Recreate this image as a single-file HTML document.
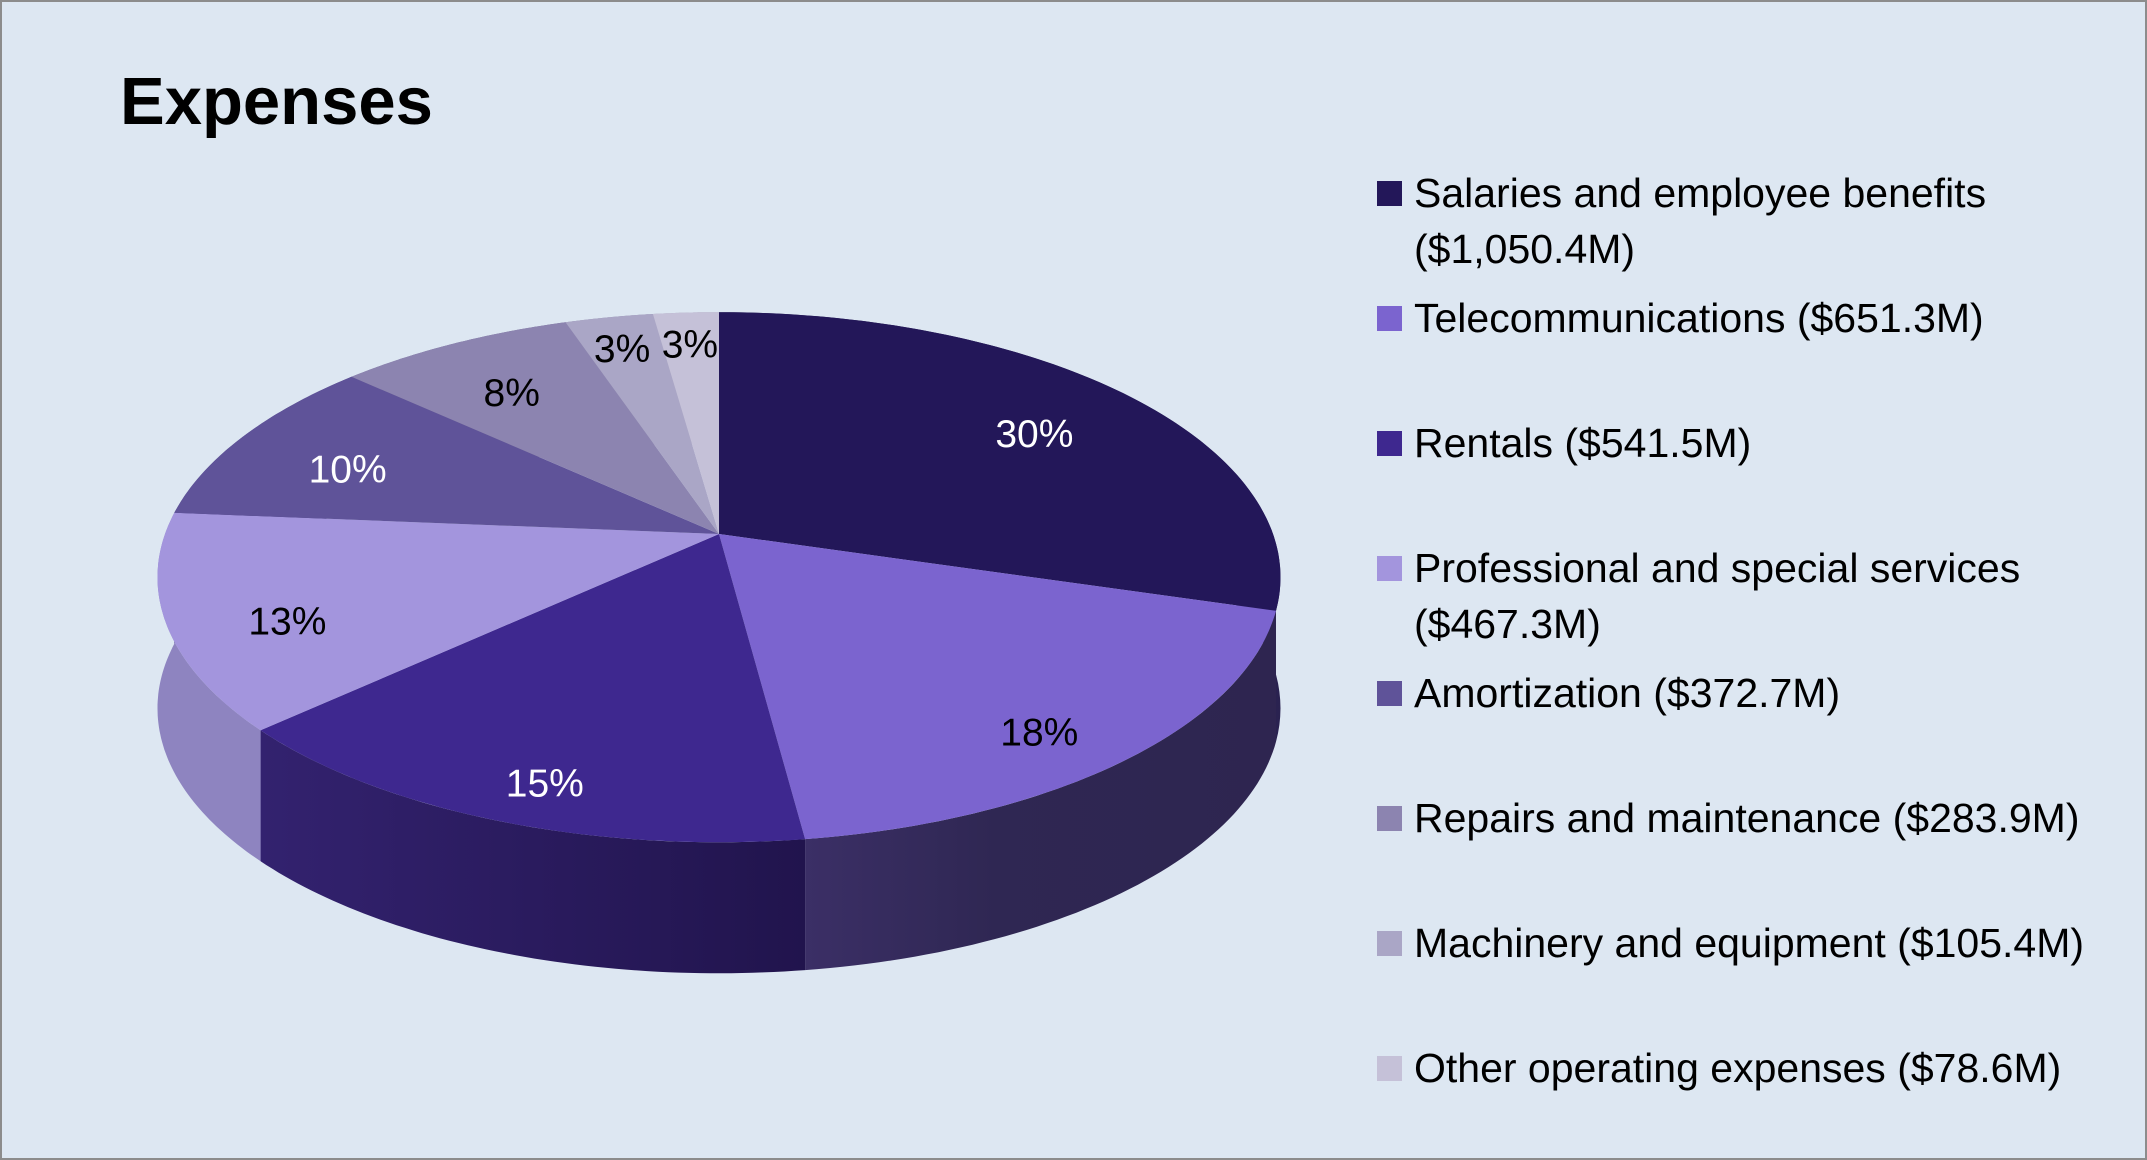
<!DOCTYPE html>
<html><head><meta charset="utf-8"><style>
html,body{margin:0;padding:0;background:#dde7f2;}
svg{display:block;font-family:"Liberation Sans",sans-serif;}
</style></head><body>
<svg id="chart" width="2147" height="1160" viewBox="0 0 2147 1160" xmlns="http://www.w3.org/2000/svg">
<defs>
<linearGradient id="g2" x1="0" x2="1" y1="0" y2="0"><stop offset="0" stop-color="#33226f"/><stop offset="1" stop-color="#21144d"/></linearGradient>
<linearGradient id="g1" x1="0" x2="1" y1="0" y2="0"><stop offset="0" stop-color="#3b2f66"/><stop offset="0.4" stop-color="#2f2753"/><stop offset="1" stop-color="#2e2550"/></linearGradient>
</defs>
<rect x="1" y="1" width="2145" height="1158" fill="#dde7f2" stroke="#8c8c8c" stroke-width="2"/>
<text x="120" y="124" font-size="67" font-weight="bold" fill="#000">Expenses</text>
<g id="walls"></g><g id="tops"></g><g id="labels"></g><g id="legend"></g>
</svg>
<script>
const categories=["Salaries and employee benefits","Telecommunications","Rentals","Professional and special services","Amortization","Repairs and maintenance","Machinery and equipment","Other operating expenses"];
const amounts=[1050.4,651.3,541.5,467.3,372.7,283.9,105.4,78.6];
const amountLabels=["($1,050.4M)","($651.3M)","($541.5M)","($467.3M)","($372.7M)","($283.9M)","($105.4M)","($78.6M)"];
const pctLabels=["30%","18%","15%","13%","10%","8%","3%","3%"];
const colors=["#231759","#7b64cf","#3e288f","#a395dd","#5f5399","#8c84b0","#aaa6c6","#c5c1d8"];
const wallColors=["#2a2250","url(#g1)","url(#g2)","#8e84c0","#4a4080","#6f6890","#8a86a6","#a3a0b8"];
const NS="http://www.w3.org/2000/svg";
const cx=719,cy=534,A=554,B=258,k=0.163,depth=131;
const total=amounts.reduce((a,b)=>a+b,0);
function pt(a,dy,f){f=f==null?1:f;const d=1+k*Math.cos(a);return [cx+A*f*Math.sin(a)/d,cy-B*f*Math.cos(a)/d+(dy||0)];}
function arc(a0,a1,dy,n){let s=[];for(let i=0;i<=n;i++){s.push(pt(a0+(a1-a0)*i/n,dy));}return s;}
const walls=document.getElementById('walls'),tops=document.getElementById('tops'),labels=document.getElementById('labels'),legend=document.getElementById('legend');
let start=0;const slices=[];
amounts.forEach((v,i)=>{const a0=start,a1=start+v/total*2*Math.PI;start=a1;slices.push([a0,a1,i]);});
slices.slice().sort((p,q)=>Math.cos((q[0]+q[1])/2)-Math.cos((p[0]+p[1])/2)).forEach(([a0,a1,i])=>{
  const top=arc(a0,a1,0,60),bot=arc(a1,a0,depth,60);
  const p=document.createElementNS(NS,'path');
  p.setAttribute('d','M'+top.concat(bot).map(q=>q[0].toFixed(1)+','+q[1].toFixed(1)).join('L')+'Z');
  p.setAttribute('fill',wallColors[i]);
  
  
  walls.appendChild(p);
});
slices.forEach(([a0,a1,i])=>{
  const pts=arc(a0,a1,0,80);
  const s=document.createElementNS(NS,'path');
  s.setAttribute('d','M'+cx+','+cy+'L'+pts.map(q=>q[0].toFixed(1)+','+q[1].toFixed(1)).join('L')+'Z');
  s.setAttribute('fill',colors[i]);
  
  
  tops.appendChild(s);
  const m=(a0+a1)/2,f=i>=6?0.88:0.78;
  const d=1+k*Math.cos(m);
  const lx=cx+A*f*Math.sin(m)/d, ly=cy-B*f*1.05*Math.cos(m)/d;
  const t=document.createElementNS(NS,'text');
  t.setAttribute('x',lx.toFixed(1));t.setAttribute('y',(ly+28).toFixed(1));
  t.setAttribute('text-anchor','middle');t.setAttribute('font-size','39');
  t.setAttribute('fill',[0,2,4].includes(i)?'#fff':'#000');
  
  
  t.textContent=pctLabels[i];
  labels.appendChild(t);
});
const twoLine=[true,false,false,true,false,false,false,false];
categories.forEach((c,i)=>{
  const y=193+i*125;
  const r=document.createElementNS(NS,'rect');
  r.setAttribute('x',1377);r.setAttribute('y',y-12);r.setAttribute('width',25);r.setAttribute('height',25);
  r.setAttribute('fill',colors[i]);
  
  
  legend.appendChild(r);
  const t=document.createElementNS(NS,'text');
  t.setAttribute('x',1414);t.setAttribute('y',y+14);t.setAttribute('font-size','41');t.setAttribute('fill','#000');
  
  
  if(twoLine[i]){
    t.textContent=c;
    const t2=document.createElementNS(NS,'text');
    t2.setAttribute('x',1414);t2.setAttribute('y',y+70);t2.setAttribute('font-size','41');
    
    
    t2.textContent=amountLabels[i];
    legend.appendChild(t2);
  } else {
    t.textContent=c+' '+amountLabels[i];
  }
  legend.appendChild(t);
});
</script>
</body></html>
